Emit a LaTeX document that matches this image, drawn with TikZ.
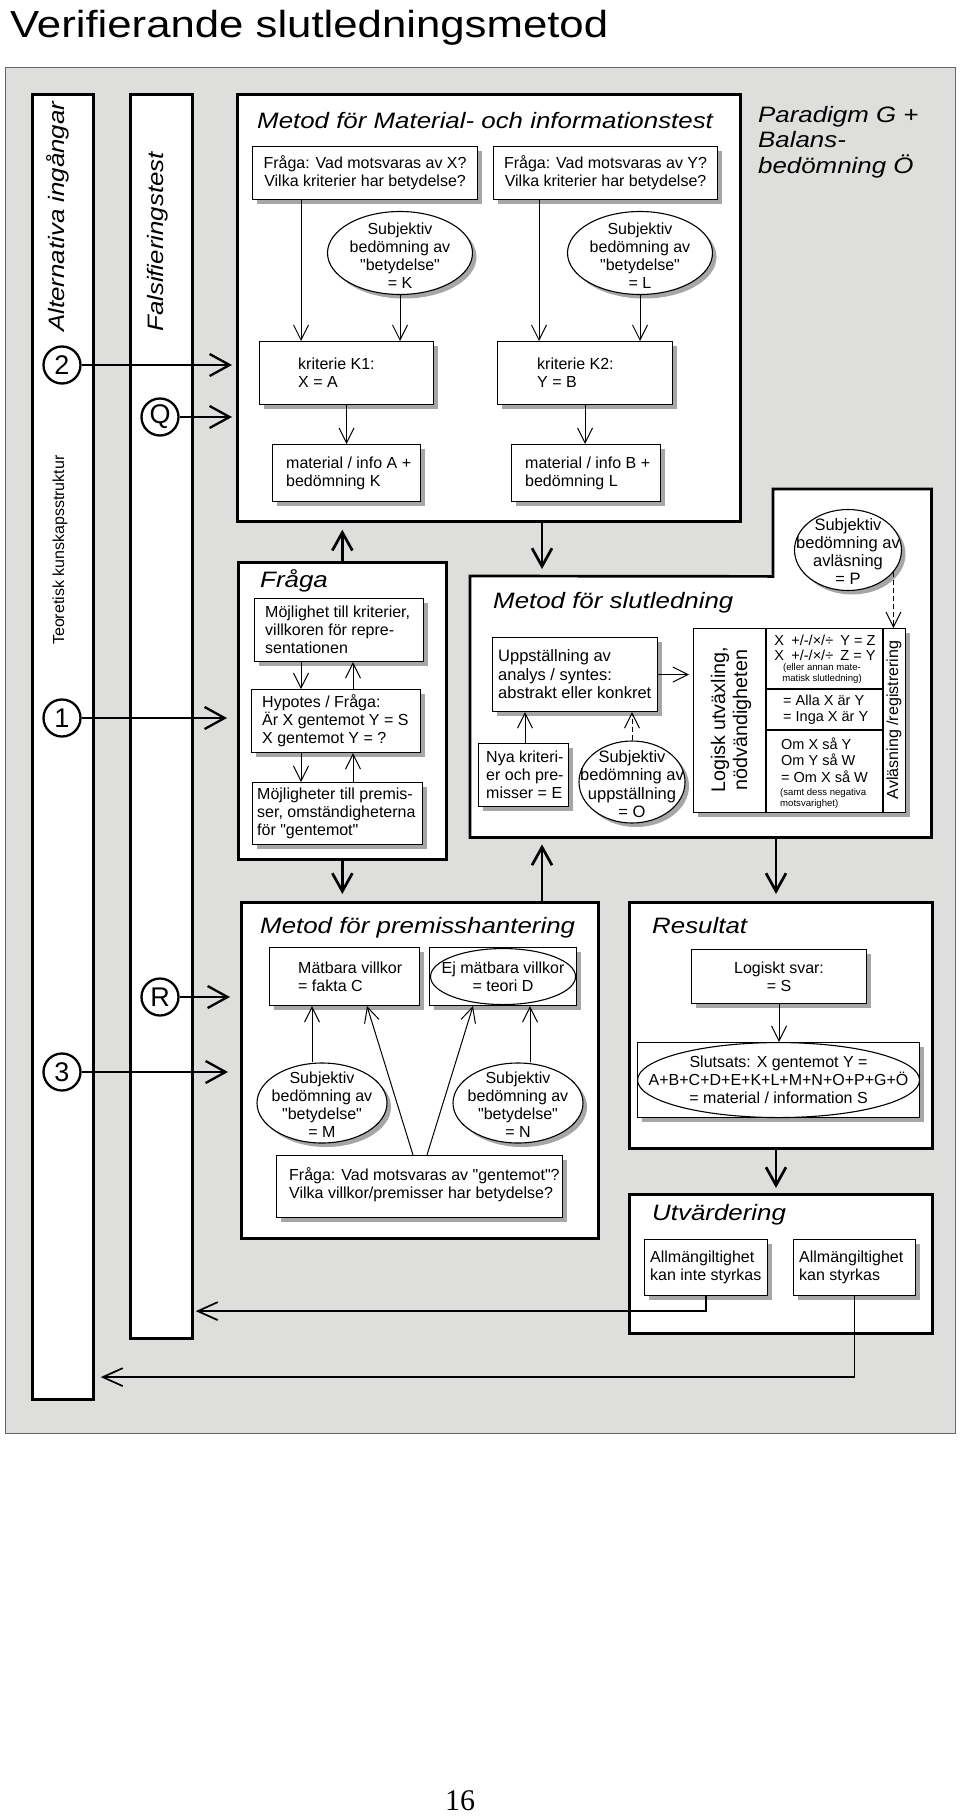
\documentclass[tikz,border=0pt]{standalone}
\usepackage{fontspec}
\setmainfont{Liberation Sans}[Ligatures=TeXOff]
\newfontfamily\stretchfont[FakeStretch=1.16,Ligatures=TeXOff]{Liberation Sans}
\newfontfamily\pagefont{Liberation Serif}
\usetikzlibrary{arrows.meta,shapes.geometric,shadows,calc}
\definecolor{framegray}{RGB}{222,222,220}
\newcommand{\titlefont}{\stretchfont\fontsize{37.7}{40}\selectfont}
\newcommand{\headfont}{\stretchfont\itshape\fontsize{22.3}{25.5}\selectfont}
\newcommand{\boxfont}{\fontsize{16}{18}\selectfont}
\newcommand{\numfont}{\fontsize{27}{30}\selectfont}
\newcommand{\tabfont}{\fontsize{14.5}{16.5}\selectfont}
\newcommand{\tinyfont}{\fontsize{9.6}{11}\selectfont}

\begin{document}
\begin{tikzpicture}[x=1pt,y=-1pt]
  \tikzset{graypanel/.style={draw=black!60, line width=0.8pt, fill=framegray, inner sep=0pt},
           bigbox/.style={draw, line width=2.7pt, fill=white, inner sep=0pt},
           innerbox/.style={draw, line width=1.1pt, fill=white, inner sep=0pt,
                            drop shadow={shadow xshift=4pt, shadow yshift=-4pt, fill=black!35, opacity=1}},
           oval/.style={ellipse, innerbox},
           flatoval/.style={ellipse, draw, line width=1.1pt, inner sep=0pt},
           txt/.style={inner sep=0pt, align=left, font=\boxfont},
           ctxt/.style={inner sep=0pt, align=center, font=\boxfont},
           head/.style={inner sep=0pt, anchor=base west, font=\headfont},
           num/.style={circle, draw, line width=2.3pt, fill=white, minimum size=37pt, inner sep=0pt, font=\numfont},
           smallarrow/.style={-{Straight Barb[length=15pt,width=15pt]}, line width=1pt},
           dasharrow/.style={smallarrow, dash pattern=on 5pt off 3pt},
           fatarrow/.style={-{Straight Barb[length=18pt,width=20pt]}, line width=2.7pt, shorten >=7pt},
           entryarrow/.style={-{Straight Barb[length=20pt,width=22pt]}, line width=2.3pt},
           backarrow/.style={-{Straight Barb[length=20pt,width=18pt]}, line width=1.7pt}}
  \useasboundingbox (0,0) rectangle (960,1820);
  \node[anchor=base west, inner sep=0pt, font=\titlefont] (title) at (10,37) {Verifierande slutledningsmetod};
  \node[graypanel, anchor=north west, minimum width=950pt, minimum height=1366pt] (panel) at (5,67) {};
  \node[font=\pagefont\fontsize{30}{32}\selectfont, inner sep=0pt] (pagenum) at (460,1801) {16};

  % columns to the left
  \node[bigbox, anchor=north west, minimum width=61pt, minimum height=1305pt] (col1) at (31,93) {};
  \node[bigbox, anchor=north west, minimum width=62pt, minimum height=1244pt] (col2) at (129,93) {};
  \node[head, rotate=90, anchor=west] (alt) at (58,332) {Alternativa ingångar};
  \node[txt, rotate=90, anchor=west] (teor) at (60,645) {Teoretisk kunskapsstruktur};
  \node[head, rotate=90, anchor=west] (fals) at (158,332) {Falsifieringstest};

  % material- och informationstest
  \node[bigbox, anchor=north west, minimum width=503pt, minimum height=427pt] (matbox) at (236,93) {};
  \node[head] (mathead) at (257,128) {Metod för Material- och informationstest};
  \node[innerbox, anchor=north west, minimum width=225pt, minimum height=53pt] (fragX) at (252,146) {};
  \node[ctxt] at (fragX) {Fråga: Vad motsvaras av X?\\Vilka kriterier har betydelse?};
  \node[innerbox, anchor=north west, minimum width=224pt, minimum height=53pt] (fragY) at (493,146) {};
  \node[ctxt] at (fragY) {Fråga: Vad motsvaras av Y?\\Vilka kriterier har betydelse?};
  \node[oval, minimum width=145pt, minimum height=83pt] (elK) at (400,253) {};
  \node[ctxt] at ([yshift=-3pt]elK.center) {Subjektiv\\bedömning av\\"betydelse"\\= K};
  \node[oval, minimum width=145pt, minimum height=83pt] (elL) at (640,253) {};
  \node[ctxt] at ([yshift=-3pt]elL.center) {Subjektiv\\bedömning av\\"betydelse"\\= L};
  \node[innerbox, anchor=north west, minimum width=174pt, minimum height=63pt] (k1) at (259,341) {};
  \node[txt, anchor=west] at ([xshift=39pt]k1.west) {kriterie K1:\\X = A};
  \node[innerbox, anchor=north west, minimum width=175pt, minimum height=63pt] (k2) at (497,341) {};
  \node[txt, anchor=west] at ([xshift=40pt]k2.west) {kriterie K2:\\Y = B};
  \node[innerbox, anchor=north west, minimum width=148pt, minimum height=57pt] (matA) at (272,444) {};
  \node[txt, anchor=west] at ([xshift=14pt]matA.west) {material / info A +\\bedömning K};
  \node[innerbox, anchor=north west, minimum width=149pt, minimum height=57pt] (matB) at (511,444) {};
  \node[txt, anchor=west] at ([xshift=14pt]matB.west) {material / info B +\\bedömning L};
  \draw[smallarrow] ($(fragX.south west)+(49,0)$) -- ($(k1.north west)+(42,0)$);
  \draw[smallarrow] (elK.south) -- (elK.south |- k1.north);
  \draw[smallarrow] ($(fragY.south west)+(46,0)$) -- ($(k2.north west)+(42,0)$);
  \draw[smallarrow] (elL.south) -- (elL.south |- k2.north);
  \draw[smallarrow] (k1.south) -- (k1.south |- matA.north);
  \draw[smallarrow] (k2.south) -- (k2.south |- matB.north);

  \node[head, anchor=west, align=left] (parad) at (758,142) {Paradigm G +\\Balans-\\bedömning Ö};

  % fråga
  \node[bigbox, anchor=north west, minimum width=208pt, minimum height=297pt] (fraga) at (237,561) {};
  \node[head] (fraghead) at (260,587) {Fråga};
  \node[innerbox, anchor=north west, minimum width=169pt, minimum height=63pt] (moj) at (254,598) {};
  \node[txt, anchor=west] at ([xshift=11pt]moj.west) {Möjlighet till kriterier,\\villkoren för repre-\\sentationen};
  \node[innerbox, anchor=north west, minimum width=169pt, minimum height=63pt] (hyp) at (251,689) {};
  \node[txt, anchor=west] at ([xshift=11pt]hyp.west) {Hypotes / Fråga:\\Är X gentemot Y = S\\X gentemot Y = ?};
  \node[innerbox, anchor=north west, minimum width=170pt, minimum height=62pt] (mojp) at (252,782) {};
  \node[txt, anchor=west] at ([xshift=5pt]mojp.west) {Möjligheter till premis-\\ser, omständigheterna\\för "gentemot"};
  \draw[smallarrow] ($(moj.south west)+(47,0)$) -- ($(hyp.north west)+(50,0)$);
  \draw[smallarrow] ($(hyp.north west)+(102,0)$) -- ($(moj.south west)+(99,0)$);
  \draw[smallarrow] ($(hyp.south west)+(50,0)$) -- ($(mojp.north west)+(49,0)$);
  \draw[smallarrow] ($(mojp.north west)+(101,0)$) -- ($(hyp.south west)+(102,0)$);

  % slutledning
  \node[anchor=north west, minimum width=461pt, minimum height=261pt, inner sep=0pt] (slut) at (470,576) {};
  \node[anchor=north west, minimum width=158pt, minimum height=87pt, inner sep=0pt] (notch) at (773,489) {};
  \draw[line width=2.7pt, fill=white] (slut.north west) -- (notch.south west) -- (notch.north west)
       -- (notch.north east) -- (slut.south east) -- (slut.south west) -- cycle;
  \node[head] (sluthead) at (493,608) {Metod för slutledning};
  \node[oval, minimum width=107pt, minimum height=81pt] (elP) at (848,550) {};
  \node[ctxt, font=\fontsize{16.5}{18}\selectfont] at ([yshift=-2pt]elP.center) {Subjektiv\\bedömning av\\avläsning\\= P};
  \node[innerbox, anchor=north west, minimum width=165pt, minimum height=74pt] (upp) at (492,637) {};
  \node[txt, anchor=west, font=\fontsize{16.5}{18.5}\selectfont] at ([xshift=6pt]upp.west) {Uppställning av\\analys / syntes:\\abstrakt eller konkret};
  \node[innerbox, anchor=north west, minimum width=90pt, minimum height=63pt] (nya) at (478,743) {};
  \node[txt, anchor=west] at ([xshift=8pt]nya.west) {Nya kriteri-\\er och pre-\\misser = E};
  \node[oval, minimum width=106pt, minimum height=82pt] (elO) at (632,782) {};
  \node[ctxt, font=\fontsize{16.5}{18.5}\selectfont] at ([yshift=-2pt]elO.center) {Subjektiv\\bedömning av\\uppställning\\= O};
  \node[innerbox, anchor=north west, minimum width=212pt, minimum height=184pt] (tab) at (693,628) {};
  \draw[line width=1.1pt] ($(tab.north west)+(73,0)$) -- ($(tab.south west)+(73,0)$);
  \draw[line width=1.1pt] ($(tab.north west)+(190,0)$) -- ($(tab.south west)+(190,0)$);
  \draw[line width=1.1pt] ($(tab.north west)+(73,61)$) -- ($(tab.north west)+(190,61)$);
  \draw[line width=1.1pt] ($(tab.north west)+(73,102)$) -- ($(tab.north west)+(190,102)$);
  \node[align=center, rotate=90, inner sep=0pt, font=\fontsize{19.7}{22}\selectfont] (logisk) at (731,720) {Logisk utväxling,\\nödvändigheten};
  \node[txt, rotate=90] (avl) at (894,720) {Avläsning /registrering};
  \node[ctxt, font=\fontsize{14.5}{15.5}\selectfont] at (825,648) {X\enspace +/-/×/÷\enspace Y = Z\\X\enspace +/-/×/÷\enspace Z = Y};
  \node[ctxt, font=\tinyfont] at (822,674) {(eller annan mate-\\matisk slutledning)};
  \node[txt, anchor=west, font=\fontsize{14.5}{16}\selectfont] at (783,710) {= Alla X är Y\\= Inga X är Y};
  \node[txt, anchor=west, font=\tabfont] at (781,760) {Om X så Y\\Om Y så W\\= Om X så W};
  \node[txt, anchor=west, font=\tinyfont] at (780,799) {(samt dess negativa\\motsvarighet)};
  \draw[dasharrow] (elP.-26) -- (elP.-26 |- tab.north);
  \draw[smallarrow, shorten >=4pt] (upp.east) -- (upp.east -| tab.west);
  \draw[smallarrow] ($(nya.north west)+(47,0)$) -- ($(upp.south west)+(33,0)$);
  \draw[dasharrow] (elO.north) -- (elO.north |- upp.south);

  % premisshantering
  \node[bigbox, anchor=north west, minimum width=357pt, minimum height=336pt] (prem) at (240,901) {};
  \node[head] (premhead) at (260,933) {Metod för premisshantering};
  \node[innerbox, anchor=north west, minimum width=150pt, minimum height=58pt] (matv) at (269,947) {};
  \node[txt, anchor=west] at ([xshift=29pt]matv.west) {Mätbara villkor\\= fakta C};
  \node[innerbox, anchor=north west, minimum width=147pt, minimum height=58pt] (ejm) at (429,947) {};
  \node[flatoval, minimum width=145pt, minimum height=56pt] (elD) at (ejm) {};
  \node[ctxt] at (elD) {Ej mätbara villkor\\= teori D};
  \node[oval, minimum width=130pt, minimum height=80pt] (elM) at (322,1103) {};
  \node[ctxt] at ([yshift=-2pt]elM.center) {Subjektiv\\bedömning av\\"betydelse"\\= M};
  \node[oval, minimum width=130pt, minimum height=80pt] (elN) at (518,1103) {};
  \node[ctxt] at ([yshift=-2pt]elN.center) {Subjektiv\\bedömning av\\"betydelse"\\= N};
  \node[innerbox, anchor=north west, minimum width=286pt, minimum height=62pt] (fgm) at (276,1155) {};
  \node[txt, anchor=west] at ([xshift=13pt,yshift=2pt]fgm.west) {Fråga: Vad motsvaras av "gentemot"?\\Vilka villkor/premisser har betydelse?};
  \draw[smallarrow] ($(elM.north)+(-10,0)$) -- ($(matv.south west)+(43,0)$);
  \draw[smallarrow] ($(elN.north)+(12,0)$) -- ($(ejm.south west)+(101,0)$);
  \draw[smallarrow] ($(fgm.north west)+(137,0)$) -- ($(matv.south west)+(98,0)$);
  \draw[smallarrow] ($(fgm.north west)+(151,0)$) -- ($(ejm.south west)+(44,0)$);

  % resultat
  \node[bigbox, anchor=north west, minimum width=303pt, minimum height=246pt] (res) at (628,901) {};
  \node[head] (reshead) at (652,933) {Resultat};
  \node[innerbox, anchor=north west, minimum width=175pt, minimum height=54pt] (svar) at (691,949) {};
  \node[ctxt] at (svar) {Logiskt svar:\\= S};
  \node[innerbox, anchor=north west, minimum width=282pt, minimum height=75pt] (slutsats) at (637,1042) {};
  \node[flatoval, minimum width=282pt, minimum height=75pt] (elS) at (slutsats) {};
  \node[ctxt] at (elS) {Slutsats: X gentemot Y =\\A+B+C+D+E+K+L+M+N+O+P+G+Ö\\= material / information S};
  \draw[smallarrow] (svar.south) -- (svar.south |- slutsats.north);

  % utvärdering
  \node[bigbox, anchor=north west, minimum width=303pt, minimum height=139pt] (utv) at (628,1193) {};
  \node[head] (utvhead) at (652,1220) {Utvärdering};
  \node[innerbox, anchor=north west, minimum width=123pt, minimum height=56pt] (ka1) at (644,1239) {};
  \node[txt, anchor=west] at ([xshift=6pt]ka1.west) {Allmängiltighet\\kan inte styrkas};
  \node[innerbox, anchor=north west, minimum width=122pt, minimum height=56pt] (ka2) at (793,1239) {};
  \node[txt, anchor=west] at ([xshift=6pt]ka2.west) {Allmängiltighet\\kan styrkas};

  % flow between the big boxes
  \draw[fatarrow] (fraga.north) -- (fraga.north |- matbox.south);
  \draw[fatarrow] (fraga.south) -- (fraga.south |- prem.north);
  \draw[fatarrow] ($(matbox.south west)+(306,0)$) -- ($(slut.north west)+(72,0)$);
  \draw[fatarrow] ($(prem.north west)+(302,0)$) -- ($(slut.south west)+(72,0)$);
  \draw[fatarrow] ($(slut.south west)+(306,0)$) -- ($(res.north west)+(148,0)$);
  \draw[fatarrow, shorten >=5pt] ($(res.south west)+(148,0)$) -- ($(utv.north west)+(148,0)$);

  % entries and way back
  \node[num] (c2) at (62,365) {2};
  \node[num] (cQ) at (160,417) {Q};
  \node[num] (c1) at (62,718) {1};
  \node[num] (cR) at (160,997) {R};
  \node[num] (c3) at (62,1072) {3};
  \draw[entryarrow, shorten >=4pt] (c2.east) -- (c2.east -| matbox.west);
  \draw[entryarrow, shorten >=4pt] (cQ.east) -- (cQ.east -| matbox.west);
  \draw[entryarrow, shorten >=10pt] (c1.east) -- (c1.east -| fraga.west);
  \draw[entryarrow, shorten >=10pt] (cR.east) -- (cR.east -| prem.west);
  \draw[entryarrow, shorten >=12pt] (c3.east) -- (c3.east -| prem.west);
  \draw[backarrow, shorten >=2pt] (ka1.south) |- ($(ka1.south -| col2.east)+(0,15)$);
  \draw[backarrow, shorten >=6pt] (ka2.south) |- ($(ka2.south -| col1.east)+(0,81)$);
\end{tikzpicture}
\end{document}
